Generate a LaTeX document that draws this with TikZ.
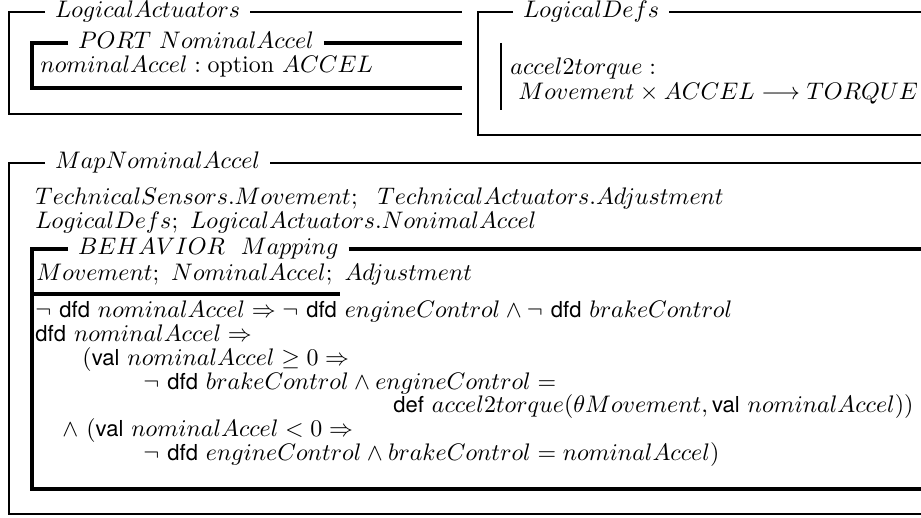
\documentclass[tikz,border=0pt]{standalone}
\usepackage{fontspec}
\setsansfont{TeX Gyre Heros}[Scale=0.92]
\begin{document}
\begin{tikzpicture}[x=0.418pt,y=-0.418pt,
  frame/.style={line width=1.15pt},
  subframe/.style={line width=1.4pt},
  bar/.style={line width=0.55pt},
  head/.style={inner xsep=4pt, inner ysep=0pt, text height=7pt, text depth=2pt, anchor=west},
  txt/.style={inner sep=0pt, anchor=base west},
  txtr/.style={inner sep=0pt, anchor=base east}]
\useasboundingbox (0,0) rectangle (921,518);

% --- LogicalActuators schema ---
\node[head] (hLA) at (45,12) {$LogicalActuators$};
\draw[frame] (hLA.west) -- (9,12) -- (9,114) -- (462,114);
\draw[frame] (hLA.east) -- (462,12);

\node[head] (hPORT) at (68,43) {$PORT\ NominalAccel$};
\draw[subframe] (hPORT.west) -- (32,43) -- (32,88) -- (462,88);
\draw[subframe] (hPORT.east) -- (462,43);
\node[txt] (port) at (40,73) {$nominalAccel : \mathrm{option}\ ACCEL$};

% --- LogicalDefs schema ---
\node[head] (hLD) at (513,12) {$LogicalDefs$};
\draw[frame] (hLD.west) -- (478,12) -- (478,135) -- (921,135);
\draw[frame] (hLD.east) -- (921,12);
\coordinate (barTop) at (501,43);
\coordinate (barBot) at (501,110);
\draw[bar] (barTop) -- (barBot);
\node[txt] (defA) at (510,75) {$accel2torque :$};
\node[txt] (defB) at (518,100) {$Movement \times ACCEL \longrightarrow TORQUE$};

% --- MapNominalAccel schema ---
\node[head] (hMAP) at (45,163) {$MapNominalAccel$};
\draw[frame] (hMAP.west) -- (9,163) -- (9,514) -- (921,514);
\draw[frame] (hMAP.east) -- (921,163);
\node[txt] (imp1) at (35,205) {$TechnicalSensors.Movement;\ \ TechnicalActuators.Adjustment$};
\node[txt] (imp2) at (35,229) {$LogicalDefs;\ LogicalActuators.NonimalAccel$};

\node[head] (hBEH) at (68,249) {$BEHAVIOR\ \ Mapping$};
\draw[subframe] (hBEH.west) -- (32,249) -- (32,489) -- (921,489);
\draw[subframe] (hBEH.east) -- (921,249);
\node[txt] (decl) at (36,281) {$Movement;\ NominalAccel;\ Adjustment$};
\coordinate (sepL) at (32,294);
\coordinate (sepR) at (340,294);
\draw[subframe] (sepL) -- (sepR);

\node[txt] (r1) at (35,318) {$\neg\ \textsf{dfd}\ nominalAccel \Rightarrow \neg\ \textsf{dfd}\ engineControl \wedge \neg\ \textsf{dfd}\ brakeControl$};
\node[txt] (r2) at (35,342) {$\textsf{dfd}\ nominalAccel \Rightarrow$};
\node[txt] (r3) at (82,366) {$(\textsf{val}\ nominalAccel \geq 0 \Rightarrow$};
\node[txt] (r4) at (143,390) {$\neg\ \textsf{dfd}\ brakeControl \wedge engineControl =$};
\node[txtr] (r5) at (914,413) {$\textsf{def}\ accel2torque(\theta Movement, \textsf{val}\ nominalAccel))$};
\node[txt] (r6) at (62,437) {$\wedge\ (\textsf{val}\ nominalAccel < 0 \Rightarrow$};
\node[txt] (r7) at (143,461) {$\neg\ \textsf{dfd}\ engineControl \wedge brakeControl = nominalAccel)$};
\end{tikzpicture}
\end{document}
